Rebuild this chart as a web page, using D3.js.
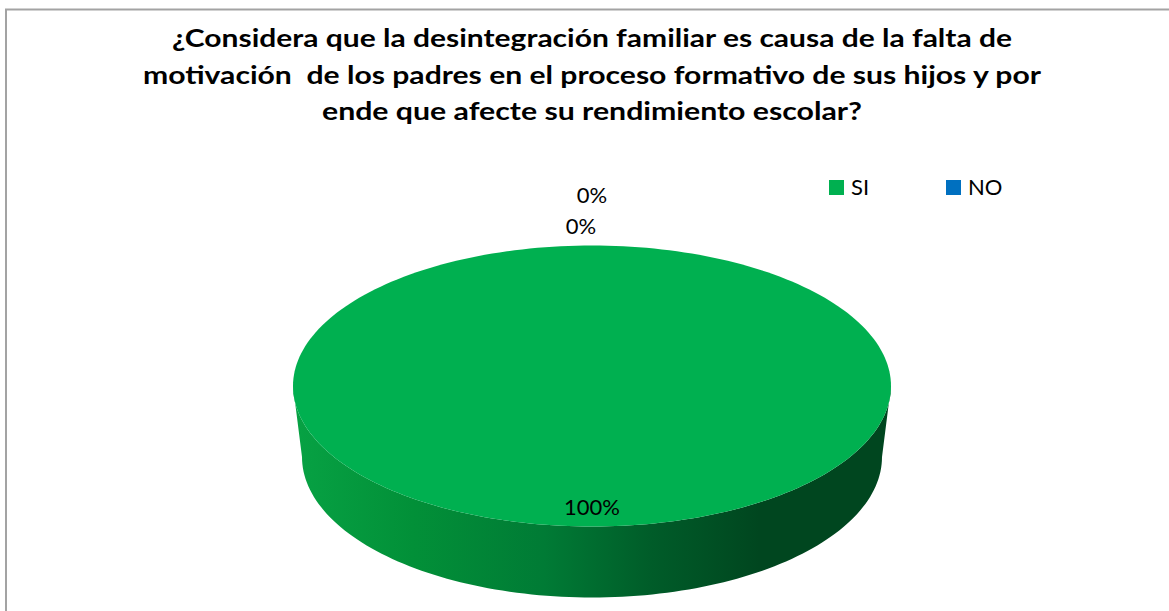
<!DOCTYPE html>
<html>
<head>
<meta charset="utf-8">
<script src="https://cdn.jsdelivr.net/npm/d3@7"></script>
<style>
  html, body { margin: 0; padding: 0; background: #fff; }
  svg { display: block; }
</style>
</head>
<body>
<svg width="1169" height="611"></svg>
<script>
var titleLines = [
  "¿Considera que la desintegración familiar es causa de la falta de",
  "motivación  de los padres en el proceso formativo de sus hijos y por",
  "ende que afecte su rendimiento escolar?"
];
var titleWidths = [840, 898, 540];

var categories = ["SI", "NO", ""];
var values = [100, 0, 0];
var legendItems = ["SI", "NO"];
var colors = ["#00b050", "#0070c0", "#a5a5a5"];

var svg = d3.select("svg");

// chart border (only top and left visible in the crop)
svg.append("rect")
    .attr("x", 6)
    .attr("y", 9.5)
    .attr("width", 1300)
    .attr("height", 800)
    .attr("fill", "none")
    .attr("stroke", "#a3a3a3")
    .attr("stroke-width", 2);

var cx = 592;

svg.append("g").selectAll("text")
    .data(titleLines)
  .join("text")
    .attr("x", cx)
    .attr("y", function(d, i) { return 47 + i * 36.7; })
    .attr("text-anchor", "middle")
    .attr("textLength", function(d, i) { return titleWidths[i]; })
    .attr("lengthAdjust", "spacingAndGlyphs")
    .style("white-space", "pre")
    .style("font-family", "Lato, 'Open Sans', sans-serif")
    .style("font-weight", "bold")
    .style("font-size", "25px")
    .style("fill", "#000")
    .text(function(d) { return d; });

var color = d3.scaleOrdinal().domain(categories).range(colors);

// 3d ellipse geometry
var cyTop = 386, rxTop = 299, ry = 140.5;
var cyBot = 457, rxBot = 290;

function pt(a, rx, cyc) {
  return [cx + rx * Math.sin(a), cyc - ry * Math.cos(a)];
}

var pie = d3.pie().sort(null).value(function(d) { return d; });
var arcs = pie(values);
var total = d3.sum(values);

var defs = svg.append("defs");
var grad = defs.append("linearGradient")
    .attr("id", "side")
    .attr("gradientUnits", "userSpaceOnUse")
    .attr("x1", cx - rxTop).attr("x2", cx + rxTop)
    .attr("y1", 0).attr("y2", 0);
[[0, "#07a244"], [0.2, "#029038"], [0.42, "#007b35"], [0.6, "#005c29"], [0.78, "#00461f"], [1, "#00461f"]]
  .forEach(function(s) {
    grad.append("stop").attr("offset", s[0]).attr("stop-color", s[1]);
  });

var line = d3.line();
var pie3d = svg.append("g");

// side walls (front half only: pi/2 .. 3pi/2)
arcs.forEach(function(d) {
  var a0 = Math.max(d.startAngle, Math.PI / 2);
  var a1 = Math.min(d.endAngle, Math.PI * 3 / 2);
  if (a1 <= a0) return;
  var pts = [];
  var n = 120;
  for (var i = 0; i <= n; i++) pts.push(pt(a0 + (a1 - a0) * i / n, rxTop, cyTop));
  for (var j = n; j >= 0; j--) pts.push(pt(a0 + (a1 - a0) * j / n, rxBot, cyBot));
  pie3d.append("path")
      .attr("d", line(pts) + "Z")
      .attr("fill", d.index === 0 ? "url(#side)" : d3.color(color(categories[d.index])).darker(1));
});

// top faces
arcs.forEach(function(d) {
  if (d.endAngle - d.startAngle <= 0) return;
  var pts = [];
  var n = 240;
  var full = d.endAngle - d.startAngle >= 2 * Math.PI - 1e-6;
  if (!full) pts.push([cx, cyTop]);
  for (var i = 0; i <= n; i++) pts.push(pt(d.startAngle + (d.endAngle - d.startAngle) * i / n, rxTop, cyTop));
  pie3d.append("path")
      .attr("d", line(pts) + "Z")
      .attr("fill", color(categories[d.index]));
});

// data labels
var fmt = function(v) { return Math.round(v / total * 100) + "%"; };
var zeroCount = 0;
var labels = svg.append("g")
    .style("font-family", "Lato, 'Open Sans', sans-serif")
    .style("font-size", "22px")
    .style("fill", "#000");
arcs.slice().reverse().forEach(function(d) {
  var mid = (d.startAngle + d.endAngle) / 2;
  var p;
  if (d.value > 0) {
    var r = 0.86;
    p = [cx + rxTop * r * Math.sin(mid), cyTop - ry * r * Math.cos(mid) + 8];
  } else {
    var e = pt(mid, rxTop, cyTop);
    p = [e[0] - 11 + zeroCount * 11, e[1] - 12 - zeroCount * 31];
    zeroCount++;
  }
  labels.append("text")
      .attr("x", p[0])
      .attr("y", p[1])
      .attr("text-anchor", "middle")
      .text(fmt(d.value));
});

// legend
var legend = svg.append("g")
    .attr("transform", "translate(829,180)")
    .style("font-family", "Lato, 'Open Sans', sans-serif")
    .style("font-size", "22px");
var item = legend.selectAll("g")
    .data(legendItems)
  .join("g")
    .attr("transform", function(d, i) { return "translate(" + (i * 117) + ",0)"; });
item.append("rect")
    .attr("width", 15)
    .attr("height", 15)
    .attr("fill", function(d) { return color(d); });
item.append("text")
    .attr("x", 22)
    .attr("y", 15)
    .text(function(d) { return d; });
</script>
</body>
</html>
